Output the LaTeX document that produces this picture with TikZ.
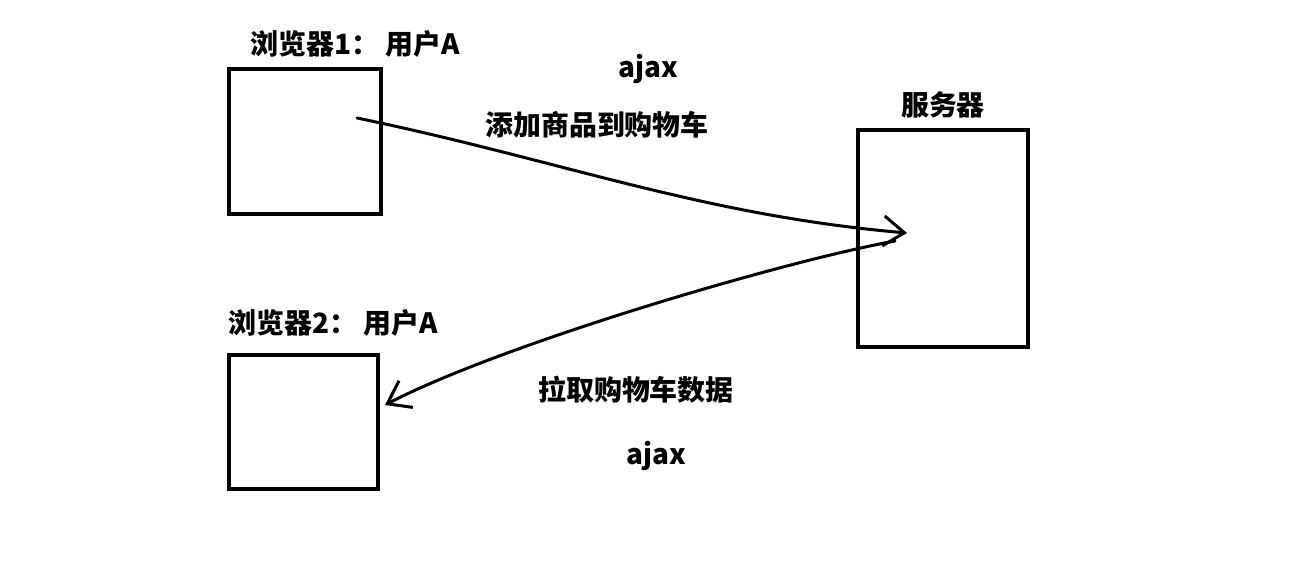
\documentclass[tikz,border=0pt]{standalone}
\usepackage{fontspec}
\newfontfamily\cjk{Noto Sans CJK SC}
\usetikzlibrary{arrows.meta}
\tikzset{>={Straight Barb[length=0.42cm,width=0.6cm]}}
\tikzset{
  box/.style={draw,line width=0.08cm,inner sep=0pt},
  lbl/.style={font=\cjk\bfseries\fontsize{15.9}{18}\selectfont,inner sep=0pt},
  hand/.style={line width=0.06cm,line cap=round,line join=round}
}

\begin{document}
\begin{tikzpicture}[x=0.02cm,y=-0.02cm]
  \useasboundingbox (0,0) rectangle (1299,577);
  % boxes
  \node[box,minimum width=3.04cm,minimum height=2.9cm] (b1) at (305,141.5) {};
  \node[box,minimum width=2.98cm,minimum height=2.68cm] (b2) at (303.5,422) {};
  \node[box,minimum width=3.4cm,minimum height=4.34cm] (srv) at (943,238.5) {};
  % labels
  \node[lbl] (l1) at (355,44) {浏览器1： 用户A};
  \node[lbl] (l2) at (333,323) {浏览器2： 用户A};
  \node[lbl] (ls) at (943,105) {服务器};
  \node[lbl] (aj1) at (648,69) {ajax};
  \node[lbl] (add) at (597,125) {添加商品到购物车};
  \node[lbl] (pull) at (636,390) {拉取购物车数据};
  \node[lbl] (aj2) at (656,456) {ajax};
  % arrows
  \coordinate (s1) at (357,118);
  \coordinate (e1) at (907,233);
  \coordinate (s2) at (895,241);
  \coordinate (e2) at (385,405);
  \draw[hand,->] (s1) .. controls (560,160) and (700,215) .. (e1);
  \draw[hand,->] (s2) .. controls (780,262) and (500,345) .. (e2);
\end{tikzpicture}
\end{document}
